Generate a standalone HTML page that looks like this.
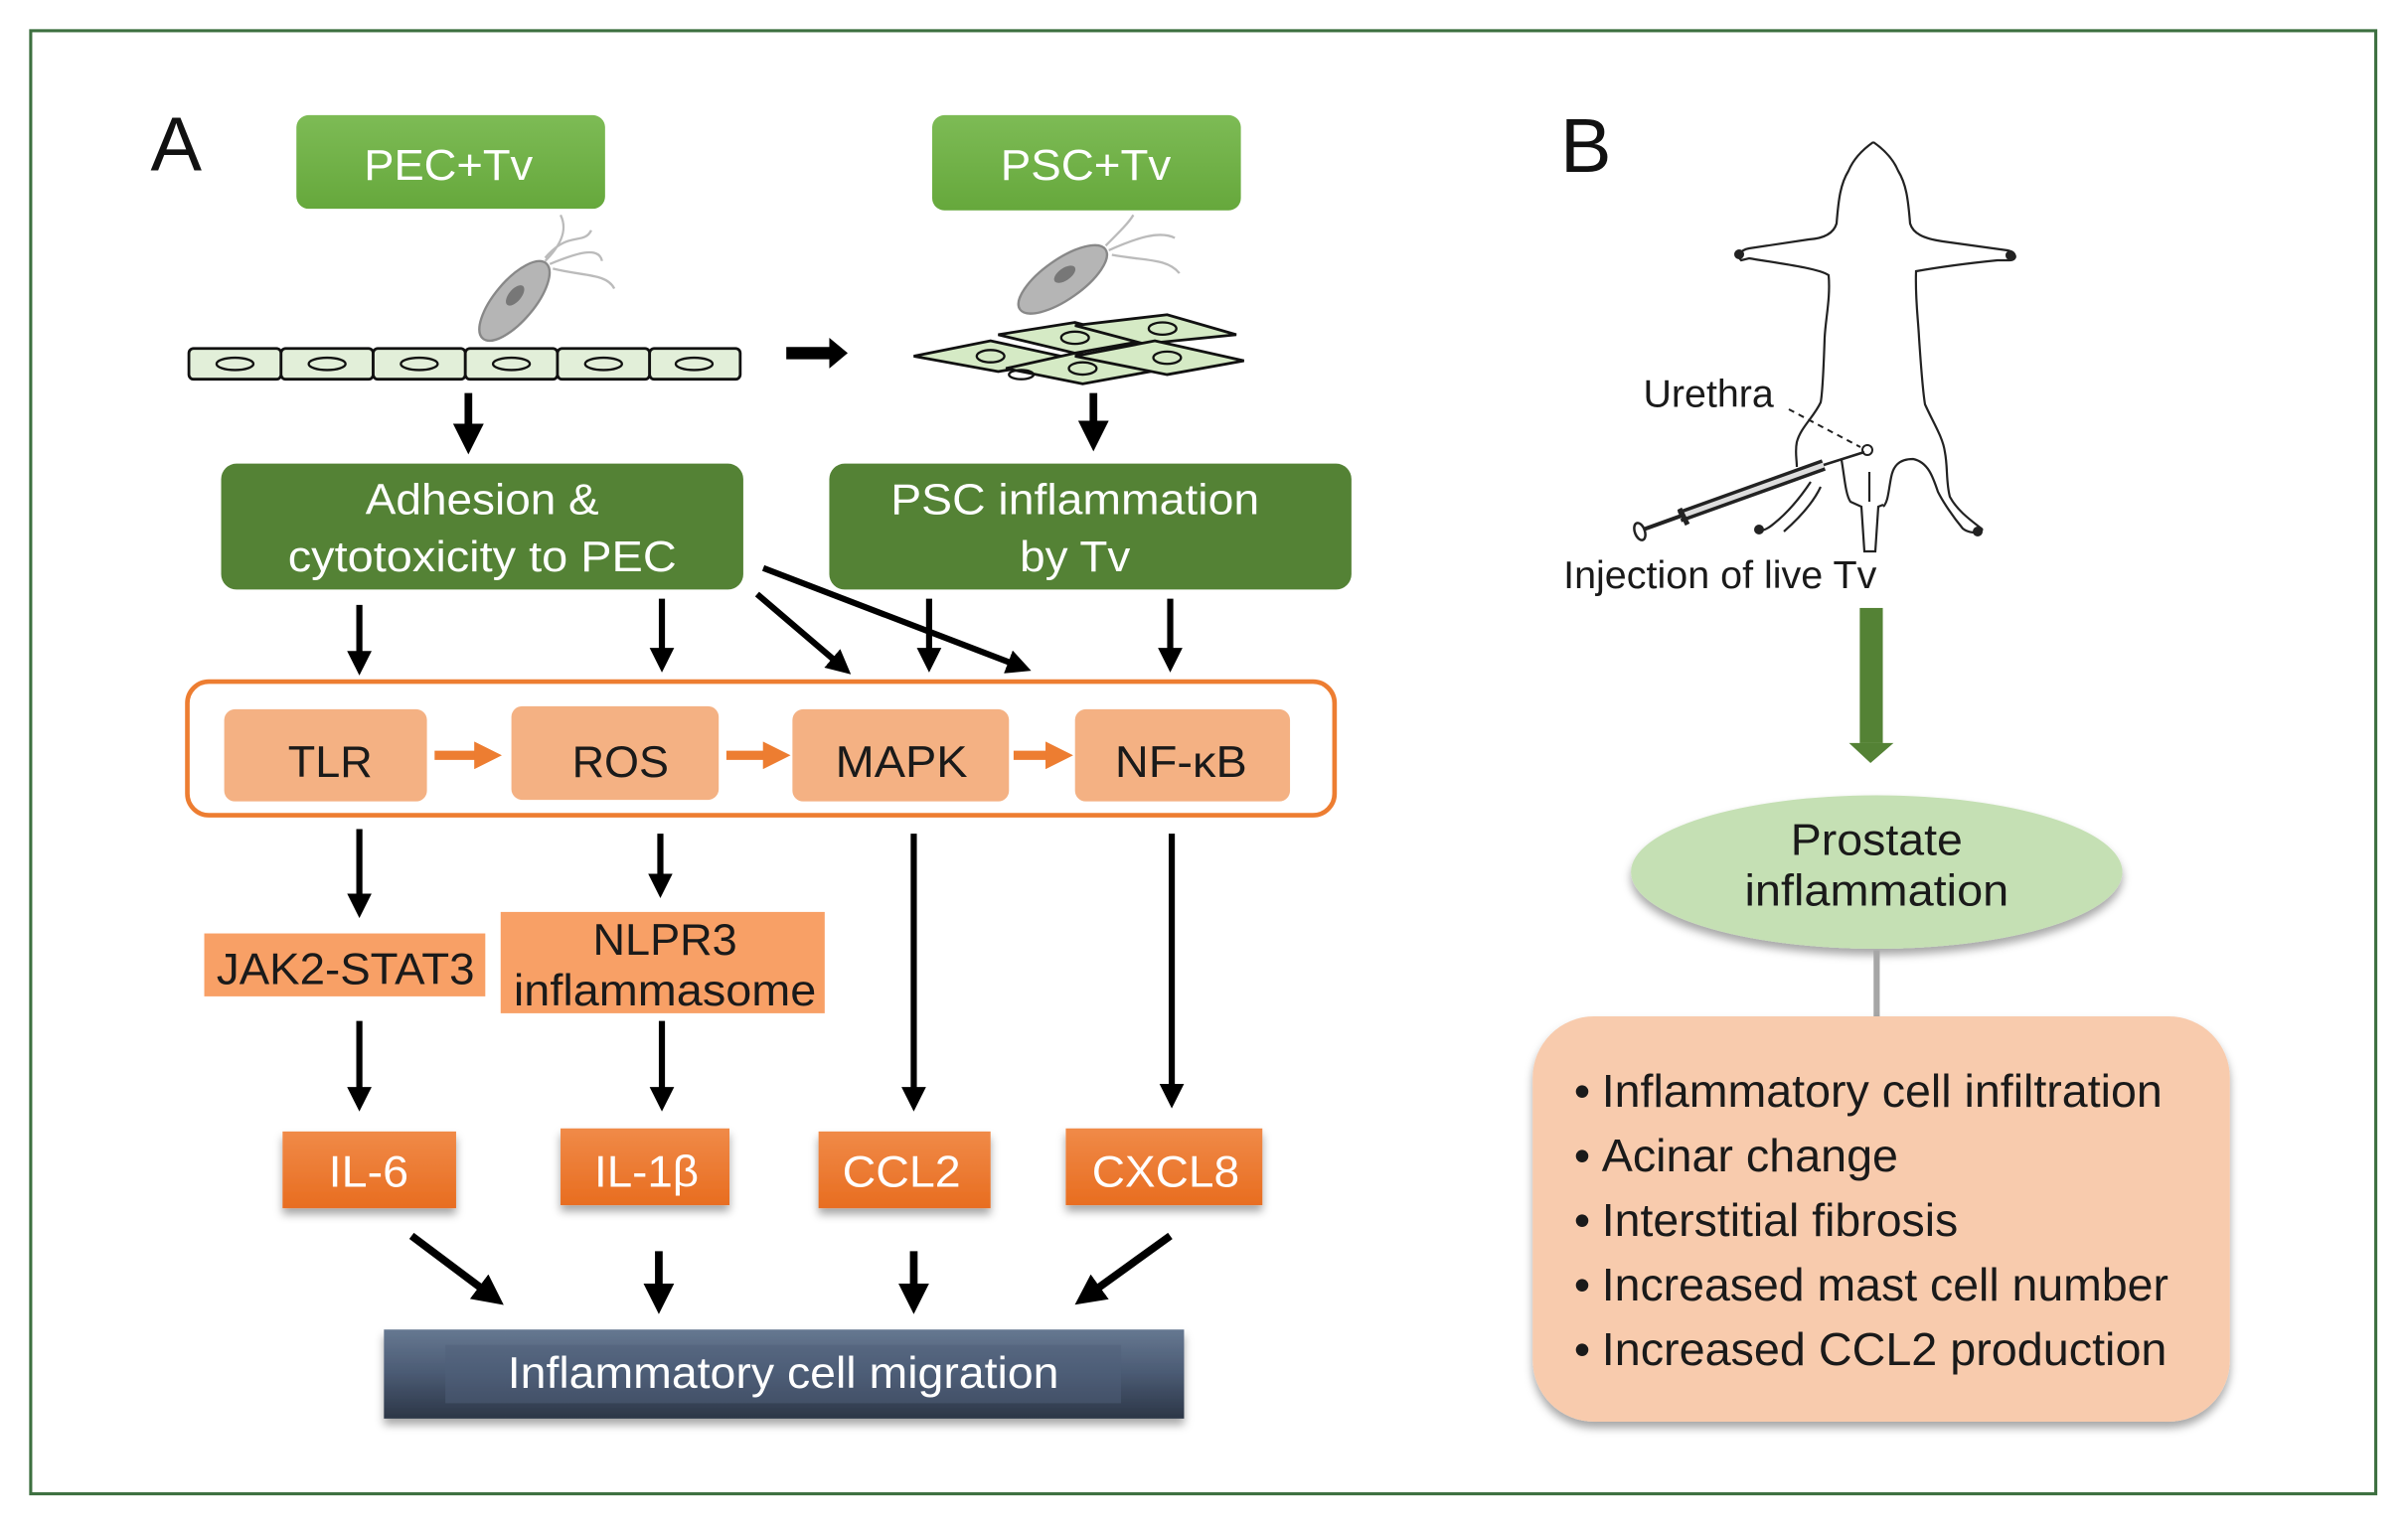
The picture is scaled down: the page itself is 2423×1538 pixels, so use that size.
<!DOCTYPE html>
<html><head><meta charset="utf-8"><style>html,body{margin:0;padding:0;background:#fff}svg{display:block}</style></head>
<body>
<svg xmlns="http://www.w3.org/2000/svg" width="2423" height="1538" viewBox="0 0 2423 1538">
<defs>
<linearGradient id="lg" x1="0" y1="0" x2="0" y2="1"><stop offset="0" stop-color="#7dbb55"/><stop offset="1" stop-color="#66a83c"/></linearGradient>
<linearGradient id="ng" x1="0" y1="0" x2="0" y2="1"><stop offset="0" stop-color="#667891"/><stop offset="0.5" stop-color="#4a5a73"/><stop offset="1" stop-color="#2c3646"/></linearGradient>
<linearGradient id="og" x1="0" y1="0" x2="0" y2="1"><stop offset="0" stop-color="#f08a48"/><stop offset="1" stop-color="#e86d20"/></linearGradient>
<filter id="sh" x="-10%" y="-10%" width="120%" height="130%"><feDropShadow dx="0" dy="4" stdDeviation="3" flood-color="#000" flood-opacity="0.35"/></filter>
<marker id="ah" markerWidth="4" markerHeight="4" refX="2" refY="2" orient="auto" markerUnits="strokeWidth"><path d="M0,0 L4,2 L0,4 Z" fill="#000"/></marker>
<marker id="oh" markerWidth="3" markerHeight="3" refX="1.2" refY="1.5" orient="auto" markerUnits="strokeWidth"><path d="M0,0 L3,1.5 L0,3 Z" fill="#ed7d31"/></marker>
</defs>
<g transform="scale(1.5453)" font-family="Liberation Sans, Arial, sans-serif">
<rect x="20" y="20" width="1527" height="953" fill="none" stroke="#3d7040" stroke-width="2"/>
<text x="98" y="111" font-size="50" fill="#111">A</text>
<text x="1016" y="112" font-size="50" fill="#111">B</text>

<!-- top green boxes -->
<rect x="193" y="75" width="201" height="61" rx="8" fill="url(#lg)"/>
<text x="292" y="117" font-size="28" fill="#fff" text-anchor="middle" textLength="110" lengthAdjust="spacingAndGlyphs">PEC+Tv</text>
<rect x="607" y="75" width="201" height="62" rx="8" fill="url(#lg)"/>
<text x="707" y="117" font-size="28" fill="#fff" text-anchor="middle" textLength="111" lengthAdjust="spacingAndGlyphs">PSC+Tv</text>

<!-- epithelial cells -->
<g stroke="#111" stroke-width="1.8" fill="#e2efd9">
<rect x="123" y="227" width="60" height="20" rx="3"/><rect x="183" y="227" width="60" height="20" rx="3"/><rect x="243" y="227" width="60" height="20" rx="3"/><rect x="303" y="227" width="60" height="20" rx="3"/><rect x="363" y="227" width="60" height="20" rx="3"/><rect x="423" y="227" width="59" height="20" rx="3"/>
</g>
<g stroke="#111" stroke-width="1.5" fill="none">
<ellipse cx="153" cy="237" rx="12" ry="4"/><ellipse cx="213" cy="237" rx="12" ry="4"/><ellipse cx="273" cy="237" rx="12" ry="4"/><ellipse cx="333" cy="237" rx="12" ry="4"/><ellipse cx="393" cy="237" rx="12" ry="4"/><ellipse cx="452" cy="237" rx="12" ry="4"/>
</g>
<!-- Tv 1 -->
<g transform="translate(335,196) rotate(-50)">
<ellipse cx="0" cy="0" rx="32" ry="13" fill="#b5b5b5" stroke="#888" stroke-width="1.5"/>
<ellipse cx="3" cy="-2" rx="8" ry="4" fill="#777"/>
</g>
<g stroke="#bbb" stroke-width="1.5" fill="none"><path d="M355,170 C365,160 370,150 365,140"/><path d="M358,172 C375,165 390,160 392,170"/><path d="M360,175 C380,180 395,178 400,188"/><path d="M355,168 C370,150 380,160 385,150"/></g>
<!-- arrow right -->
<path d="M512,226 L540,226 L540,220 L552,230 L540,240 L540,234 L512,234 Z" fill="#000"/>
<!-- stromal cells -->
<g stroke="#111" stroke-width="1.8" fill="#d5eac5">
<path d="M650,218 L700,210 L745,222 L700,230 Z"/><path d="M700,212 L760,205 L805,218 L745,224 Z"/>
<path d="M595,232 L645,222 L700,234 L650,242 Z"/><path d="M655,240 L700,230 L760,240 L705,250 Z"/><path d="M700,232 L752,222 L810,235 L760,244 Z"/>
</g>
<g stroke="#111" stroke-width="1.5" fill="none"><ellipse cx="700" cy="220" rx="9" ry="4"/><ellipse cx="757" cy="214" rx="9" ry="4"/><ellipse cx="645" cy="232" rx="9" ry="4"/><ellipse cx="705" cy="240" rx="9" ry="4"/><ellipse cx="760" cy="233" rx="9" ry="4"/><ellipse cx="665" cy="244" rx="8" ry="3"/></g>
<g transform="translate(692,182) rotate(-35)">
<ellipse cx="0" cy="0" rx="34" ry="13" fill="#b5b5b5" stroke="#888" stroke-width="1.5"/>
<ellipse cx="3" cy="-2" rx="8" ry="4" fill="#777"/>
</g>
<g stroke="#bbb" stroke-width="1.5" fill="none"><path d="M720,160 C730,150 735,145 738,140"/><path d="M722,163 C740,155 755,150 765,155"/><path d="M724,166 C745,170 760,168 768,178"/></g>

<!-- down arrows to green boxes -->
<g stroke="#000" stroke-width="5" marker-end="url(#ah)">
<line x1="305" y1="256" x2="305" y2="286"/><line x1="712" y1="256" x2="712" y2="284"/>
</g>
<rect x="144" y="302" width="340" height="82" rx="10" fill="#548235"/>
<text x="314" y="335" font-size="28" fill="#fff" text-anchor="middle" textLength="152" lengthAdjust="spacingAndGlyphs">Adhesion &amp;</text>
<text x="314" y="372" font-size="28" fill="#fff" text-anchor="middle" textLength="253" lengthAdjust="spacingAndGlyphs">cytotoxicity to PEC</text>
<rect x="540" y="302" width="340" height="82" rx="10" fill="#548235"/>
<text x="700" y="335" font-size="28" fill="#fff" text-anchor="middle" textLength="240" lengthAdjust="spacingAndGlyphs">PSC inflammation</text>
<text x="700" y="372" font-size="28" fill="#fff" text-anchor="middle" textLength="72" lengthAdjust="spacingAndGlyphs">by Tv</text>

<g stroke="#000" stroke-width="4" marker-end="url(#ah)">
<line x1="234" y1="394" x2="234" y2="432"/><line x1="431" y1="390" x2="431" y2="430"/>
<line x1="493" y1="387" x2="548" y2="434"/><line x1="605" y1="390" x2="605" y2="430"/>
<line x1="497" y1="370" x2="664" y2="434"/><line x1="762" y1="390" x2="762" y2="430"/>
</g>

<!-- orange group -->
<rect x="122" y="444" width="747" height="87" rx="14" fill="#fff" stroke="#ed7d31" stroke-width="3"/>
<g fill="#f4b183">
<rect x="146" y="462" width="132" height="60" rx="7"/><rect x="333" y="460" width="135" height="61" rx="7"/><rect x="516" y="462" width="141" height="60" rx="7"/><rect x="700" y="462" width="140" height="60" rx="7"/>
</g>
<g font-size="29" fill="#1a1a1a" text-anchor="middle">
<text x="215" y="506" textLength="55" lengthAdjust="spacingAndGlyphs">TLR</text>
<text x="404" y="506" textLength="63" lengthAdjust="spacingAndGlyphs">ROS</text>
<text x="587" y="506" textLength="86" lengthAdjust="spacingAndGlyphs">MAPK</text>
<text x="769" y="506" textLength="86" lengthAdjust="spacingAndGlyphs">NF-κB</text>
</g>
<g stroke="#ed7d31" stroke-width="6" marker-end="url(#oh)">
<line x1="283" y1="492" x2="316" y2="492"/><line x1="473" y1="492" x2="504" y2="492"/><line x1="660" y1="492" x2="688" y2="492"/>
</g>

<g stroke="#000" stroke-width="4" marker-end="url(#ah)">
<line x1="234" y1="540" x2="234" y2="590"/><line x1="430" y1="543" x2="430" y2="577"/>
<line x1="595" y1="543" x2="595" y2="716"/><line x1="763" y1="543" x2="763" y2="714"/>
<line x1="234" y1="665" x2="234" y2="716"/><line x1="431" y1="665" x2="431" y2="716"/>
</g>
<rect x="133" y="608" width="183" height="41" fill="#f8a066"/>
<text x="225" y="641" font-size="29" fill="#1a1a1a" text-anchor="middle" textLength="168" lengthAdjust="spacingAndGlyphs">JAK2-STAT3</text>
<rect x="326" y="594" width="211" height="66" fill="#f8a066"/>
<text x="433" y="622" font-size="29" fill="#1a1a1a" text-anchor="middle" textLength="94" lengthAdjust="spacingAndGlyphs">NLPR3</text>
<text x="433" y="655" font-size="29" fill="#1a1a1a" text-anchor="middle" textLength="197" lengthAdjust="spacingAndGlyphs">inflammasome</text>

<g fill="url(#og)" filter="url(#sh)">
<rect x="184" y="737" width="113" height="50"/><rect x="365" y="735" width="110" height="50"/><rect x="533" y="737" width="112" height="50"/><rect x="694" y="735" width="128" height="50"/>
</g>
<g font-size="29" fill="#fff" text-anchor="middle">
<text x="240" y="773" textLength="52" lengthAdjust="spacingAndGlyphs">IL-6</text>
<text x="421" y="773" textLength="68" lengthAdjust="spacingAndGlyphs">IL-1β</text>
<text x="587" y="773" textLength="77" lengthAdjust="spacingAndGlyphs">CCL2</text>
<text x="759" y="773" textLength="96" lengthAdjust="spacingAndGlyphs">CXCL8</text>
</g>
<g stroke="#000" stroke-width="5" marker-end="url(#ah)">
<line x1="268" y1="805" x2="320" y2="844"/><line x1="429" y1="815" x2="429" y2="846"/><line x1="595" y1="815" x2="595" y2="846"/><line x1="762" y1="805" x2="708" y2="844"/>
</g>
<rect x="250" y="866" width="521" height="58" fill="url(#ng)" filter="url(#sh)"/>
<rect x="290" y="876" width="440" height="38" fill="#4f6079" opacity="0.5"/>
<text x="510" y="904" font-size="29" fill="#fff" text-anchor="middle" textLength="359" lengthAdjust="spacingAndGlyphs">Inflammatory cell migration</text>

<!-- B side -->
<text x="1070" y="265" font-size="25" fill="#1a1a1a" textLength="85" lengthAdjust="spacingAndGlyphs">Urethra</text>
<text x="1018" y="383" font-size="25" fill="#1a1a1a" textLength="204" lengthAdjust="spacingAndGlyphs">Injection of live Tv</text>
<rect x="1211" y="396" width="15" height="88" fill="#548235"/>
<path d="M1204,484 L1233,484 L1218,497 Z" fill="#548235"/>
<ellipse cx="1222" cy="568" rx="160" ry="50" fill="#c5e0b4" filter="url(#sh)"/>
<text x="1222" y="557" font-size="29" fill="#1a1a1a" text-anchor="middle" textLength="112" lengthAdjust="spacingAndGlyphs">Prostate</text>
<text x="1222" y="590" font-size="29" fill="#1a1a1a" text-anchor="middle" textLength="172" lengthAdjust="spacingAndGlyphs">inflammation</text>
<line x1="1222" y1="619" x2="1222" y2="664" stroke="#a6a6a6" stroke-width="4"/>
<rect x="998" y="662" width="454" height="264" rx="40" fill="#f8cbad" filter="url(#sh)"/>
<g font-size="30" fill="#1a1a1a">
<text x="1025" y="721">•</text><text x="1043" y="721" textLength="365" lengthAdjust="spacingAndGlyphs">Inflammatory cell infiltration</text>
<text x="1025" y="763">•</text><text x="1043" y="763" textLength="193" lengthAdjust="spacingAndGlyphs">Acinar change</text>
<text x="1025" y="805">•</text><text x="1043" y="805" textLength="232" lengthAdjust="spacingAndGlyphs">Interstitial fibrosis</text>
<text x="1025" y="847">•</text><text x="1043" y="847" textLength="369" lengthAdjust="spacingAndGlyphs">Increased mast cell number</text>
<text x="1025" y="889">•</text><text x="1043" y="889" textLength="368" lengthAdjust="spacingAndGlyphs">Increased CCL2 production</text>
</g>
</g>

<!-- mouse in full coordinates -->
<g fill="none" stroke="#222" stroke-width="2.2">
<path d="M1885,143 C1875,150 1865,160 1860,172 C1852,185 1850,200 1848,225 C1845,235 1835,240 1820,241 L1760,250 C1750,252 1748,258 1752,262 L1760,260 C1790,265 1830,270 1840,277 C1842,300 1837,320 1836,340 C1835,370 1834,395 1832,405 C1825,420 1812,430 1808,445 C1806,455 1808,462 1808,470"/>
<path d="M1885,143 C1895,150 1905,160 1910,172 C1918,185 1920,200 1922,225 C1925,235 1935,240 1955,243 L2020,252 C2030,254 2030,262 2022,262 L2010,262 C1980,265 1945,270 1928,273 C1927,300 1930,320 1931,340 C1933,370 1935,395 1937,407 C1945,425 1955,440 1957,455 C1960,470 1958,485 1962,500 C1970,515 1985,525 1995,533"/>
<path d="M1995,533 C1990,538 1980,536 1975,532 C1965,520 1955,505 1950,495 C1945,480 1940,465 1925,462 C1910,462 1905,470 1903,480 C1900,495 1900,505 1895,510"/>
<path d="M1853,463 C1856,480 1857,498 1862,505 L1873,510 L1876,555 L1887,555 L1890,510 L1895,508"/>
<line x1="1881" y1="475" x2="1881" y2="505"/>
<path d="M1822,485 C1812,500 1800,515 1785,527 C1778,533 1772,535 1768,533"/>
<path d="M1832,490 C1825,505 1812,520 1795,535"/>
</g>
<g fill="#222"><circle cx="1750" cy="256" r="5"/><circle cx="2023" cy="257" r="5"/><circle cx="1770" cy="533" r="5"/><circle cx="1990" cy="535" r="5"/></g>
<line x1="1800" y1="412" x2="1872" y2="450" stroke="#222" stroke-width="2" stroke-dasharray="6,5"/>
<circle cx="1879" cy="453" r="5" fill="#fff" stroke="#222" stroke-width="2"/>
<g stroke="#222">
<line x1="1690" y1="520" x2="1835" y2="468" stroke-width="12"/>
<line x1="1690" y1="520" x2="1835" y2="468" stroke="#ddd" stroke-width="5"/>
<line x1="1835" y1="468" x2="1876" y2="455" stroke-width="2.5"/>
<line x1="1648" y1="535" x2="1695" y2="518" stroke-width="4"/>
<line x1="1690" y1="512" x2="1698" y2="528" stroke-width="5"/>
</g>
<ellipse cx="1650" cy="535" rx="5" ry="9" fill="#fff" stroke="#222" stroke-width="2.5" transform="rotate(-20 1650 535)"/>
</svg>
</body></html>
